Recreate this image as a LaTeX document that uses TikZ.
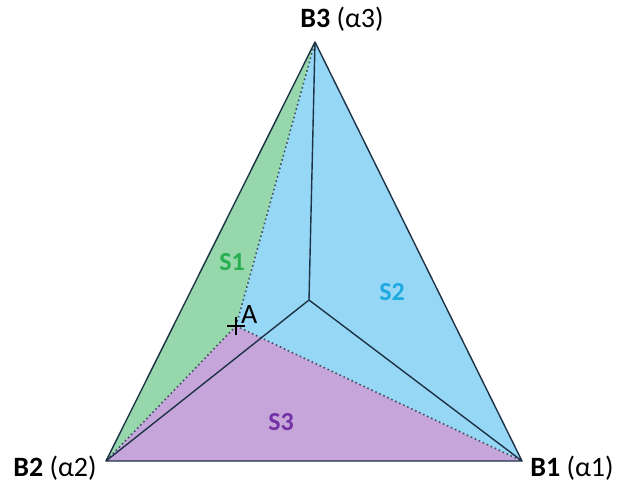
\documentclass[tikz,border=0pt]{standalone}
\usepackage{fontspec}
\setmainfont{Carlito}
\definecolor{edge}{RGB}{30,50,70}
\definecolor{gfill}{RGB}{150,215,172}
\definecolor{bfill}{RGB}{150,215,245}
\definecolor{pfill}{RGB}{198,166,218}
\definecolor{gtext}{RGB}{40,175,80}
\definecolor{btext}{RGB}{30,170,225}
\definecolor{ptext}{RGB}{115,50,165}
\tikzset{
  solidedge/.style={draw=edge, line width=1.4pt},
  dotedge/.style={draw=edge!85, line width=1.6pt, dash pattern=on 1.6pt off 2.8pt},
  vlabel/.style={font=\fontsize{28}{32}\selectfont, inner sep=0pt},
  slabel/.style={font=\fontsize{26}{30}\selectfont\bfseries, inner sep=0pt},
}
\begin{document}
\begin{tikzpicture}[x=1pt,y=-1pt]
\useasboundingbox (0,0) rectangle (620,492);
\coordinate (B3) at (315,42);
\coordinate (B2) at (106,461);
\coordinate (B1) at (522,461);
\coordinate (O) at (309,300);
\coordinate (A) at (236,326);
% regions
\fill[gfill] (B2) -- (B3) -- (A) -- cycle;
\fill[bfill] (A) -- (B3) -- (B1) -- cycle;
\fill[pfill] (B2) -- (A) -- (B1) -- cycle;
% dotted edges from A
\draw[dotedge] (A) -- (B3);
\draw[dotedge] (A) -- (B1);
\draw[dotedge] (A) -- (B2);
% inner solid lines
\draw[solidedge] (B3) -- (O);
\draw[solidedge] (O) -- (B1);
\draw[solidedge] (O) -- (B2);
% outer triangle
\draw[solidedge, line join=round] (B1) -- (B2) -- (B3) -- cycle;
% point A
\draw[black, line width=2pt] ([xshift=-9pt]A) -- ([xshift=9pt]A);
\draw[black, line width=2pt] ([yshift=-9pt]A) -- ([yshift=9pt]A);
\node[vlabel, anchor=south west] (lA) at (241,324) {A};
% labels
\node[vlabel] (l3) at (342,19) {\textbf{B3} (α3)};
\node[vlabel] (l2) at (55,468) {\textbf{B2} (α2)};
\node[vlabel] (l1) at (572,468) {\textbf{B1} (α1)};
\node[slabel, text=gtext] (s1) at (232,262) {S1};
\node[slabel, text=btext] (s2) at (392,292) {S2};
\node[slabel, text=ptext] (s3) at (281,422) {S3};
\end{tikzpicture}
\end{document}
